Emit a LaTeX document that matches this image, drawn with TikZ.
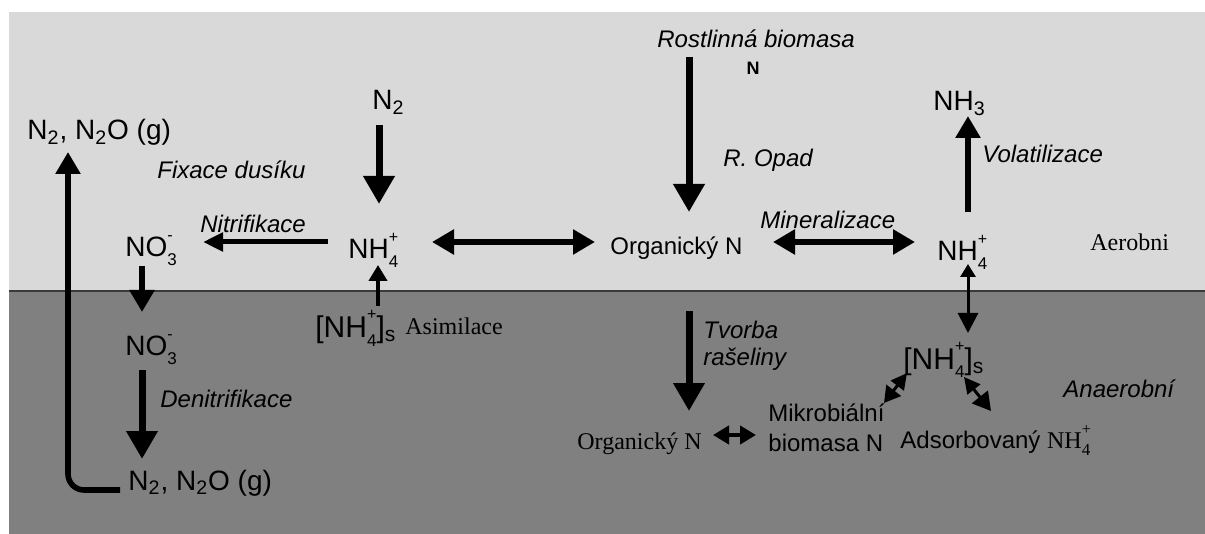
\documentclass[tikz,border=0pt]{standalone}
\usepackage{fontspec}
\setmainfont{Liberation Sans}
\newfontfamily\seriffont{Liberation Serif}
\usetikzlibrary{arrows.meta}
\definecolor{lightbg}{HTML}{D9D9D9}
\definecolor{darkbg}{HTML}{808080}
\definecolor{edgeline}{HTML}{3A3A3A}
\newcommand{\chemss}[2]{\makebox[0pt][l]{\raisebox{0.58em}{\fontsize{8}{9}\selectfont #1}}\raisebox{-0.3em}{\fontsize{8.5}{9}\selectfont #2}}
\begin{document}
\begin{tikzpicture}[x=0.5pt,y=-0.5pt,
  chem/.style={inner sep=0pt, anchor=base west, font=\fontsize{14}{16}\selectfont},
  bchem/.style={inner sep=0pt, anchor=base west, font=\fontsize{15}{17}\selectfont},
  lab/.style={inner sep=0pt, anchor=base west, font=\fontsize{12}{14}\selectfont\itshape},
  slab/.style={inner sep=0pt, anchor=base west, font=\fontsize{12}{14}\selectfont\seriffont},
  plaintext/.style={inner sep=0pt, anchor=base west, font=\fontsize{12}{14}\selectfont},
  bigarr/.style={line width=3.5pt, -{Triangle[length=14pt,width=15pt]}},
  medarr/.style={line width=2.8pt, -{Triangle[length=11pt,width=12pt]}},
  thinarr/.style={line width=2pt, -{Triangle[length=8pt,width=9pt]}},
  dblarr/.style={line width=2.8pt, {Triangle[length=11pt,width=12pt]}-{Triangle[length=11pt,width=12pt]}},
  smalldbl/.style={line width=2pt, {Triangle[length=8pt,width=9pt]}-{Triangle[length=8pt,width=9pt]}}
]
\useasboundingbox (0,0) rectangle (1205,534);
% background
\fill[white] (0,0) rectangle (1205,534);
\fill[lightbg] (8.5,12) rectangle (1205,291.5);
\fill[darkbg] (8.5,291.5) rectangle (1205,534);
\draw[edgeline, line width=1pt] (8.5,291.5) -- (1205,291.5);

% aerobic zone
\node[chem] (gasT) at (27,140) {N\textsubscript{2}, N\textsubscript{2}O (g)};
\node[lab] (fix) at (157,179) {Fixace dus\'iku};
\node[chem] (n2) at (372,110) {N\textsubscript{2}};
\node[lab] (nit) at (200,233) {Nitrifikace};
\node[chem] (no3t) at (125,257) {NO\chemss{-}{3}};
\node[chem] (nh4l) at (348,259) {NH\chemss{+}{4}};
\node[lab] (rost) at (657,48) {Rostlinn\'a biomasa};
\node[inner sep=0pt, anchor=base, font=\fontsize{9}{10}\selectfont\bfseries] (rostN) at (753,75) {N};
\node[lab] (opad) at (723,167) {R. Opad};
\node[plaintext] (org) at (610,255) {Organick\'y N};
\node[lab] (mine) at (760,229) {Mineralizace};
\node[chem] (nh4r) at (937,261) {NH\chemss{+}{4}};
\node[chem] (nh3) at (933,111) {NH\textsubscript{3}};
\node[lab] (vol) at (982,163) {Volatilizace};
\node[slab] (aer) at (1090,251) {Aerobni};

% anaerobic zone
\node[chem] (no3b) at (125,356) {NO\chemss{-}{3}};
\node[lab] (den) at (160,408) {Denitrifikace};
\node[chem] (gasB) at (128,490) {N\textsubscript{2}, N\textsubscript{2}O (g)};
\node[bchem] (nh4sl) at (315,337) {[NH\chemss{+}{4}]\textsubscript{s}};
\node[slab] (asim) at (405,335) {Asimilace};
\node[lab] (tvo1) at (703,339) {Tvorba};
\node[lab] (tvo2) at (703,365) {ra\v{s}eliny};
\node[slab] (orgb) at (577,449) {Organick\'y N};
\node[plaintext] (mik1) at (768,421) {Mikrobi\'aln\'i};
\node[plaintext] (mik2) at (768,451) {biomasa N};
\node[bchem] (nh4sr) at (903,369) {[NH\chemss{+}{4}]\textsubscript{s}};
\node[plaintext] (ads) at (900,448) {Adsorbovan\'y {\seriffont NH\chemss{+}{4}}};
\node[lab] (anae) at (1063,397) {Anaerobn\'i};

% connector ends
\coordinate (gasB-out) at (120,490);
\coordinate (gasT-in) at (68,152);
\coordinate (n2-out) at (379,125);
\coordinate (nh4l-in) at (379,204);
\coordinate (nh4l-out) at (328,242);
\coordinate (no3t-in) at (203,242);
\coordinate (no3t-out) at (142,266);
\coordinate (no3b-in) at (142,312);
\coordinate (no3b-out) at (142,370);
\coordinate (gasB-in) at (142,459);
\coordinate (nh4sl-out) at (378,306);
\coordinate (nh4l-in2) at (378,265);
\coordinate (nh4l-r) at (432,242);
\coordinate (org-l) at (595,242);
\coordinate (rost-out) at (689,57);
\coordinate (org-in) at (689,212);
\coordinate (org-r) at (773,242);
\coordinate (nh4r-l) at (915,242);
\coordinate (nh4r-out) at (968,212);
\coordinate (nh3-in) at (968,116);
\coordinate (nh4r-b) at (968,264);
\coordinate (nh4sr-t) at (968,333);
\coordinate (org-out2) at (689,311);
\coordinate (orgb-in) at (689,411);
\coordinate (orgb-r) at (713,435);
\coordinate (mik-l) at (756,435);
\coordinate (nh4sr-bl) at (907,373);
\coordinate (mik-tr) at (884,403);
\coordinate (nh4sr-br) at (964,377);
\coordinate (ads-t) at (991,411);

% connectors
\draw[medarr, rounded corners=8pt] (gasB-out) -| (gasT-in);
\draw[bigarr] (n2-out) -- (nh4l-in);
\draw[line width=2.5pt, -{Triangle[length=10pt,width=9pt]}] (nh4l-out) -- (no3t-in);
\draw[medarr] (no3t-out) -- (no3b-in);
\draw[bigarr] (no3b-out) -- (gasB-in);
\draw[thinarr] (nh4sl-out) -- (nh4l-in2);
\draw[dblarr] (nh4l-r) -- (org-l);
\draw[bigarr] (rost-out) -- (org-in);
\draw[dblarr] (org-r) -- (nh4r-l);
\draw[medarr] (nh4r-out) -- (nh3-in);
\draw[line width=1.5pt, {Triangle[length=6.5pt,width=7.5pt]}-{Triangle[length=10pt,width=10pt]}] (nh4r-b) -- (nh4sr-t);
\draw[bigarr] (org-out2) -- (orgb-in);
\draw[smalldbl] (orgb-r) -- (mik-l);
\draw[line width=1.5pt, {Triangle[length=8pt,width=8pt]}-{Triangle[length=8pt,width=9pt]}] (nh4sr-bl) -- (mik-tr);
\draw[line width=1.5pt, {Triangle[length=8pt,width=8pt]}-{Triangle[length=9pt,width=10pt]}] (nh4sr-br) -- (ads-t);
\end{tikzpicture}
\end{document}
